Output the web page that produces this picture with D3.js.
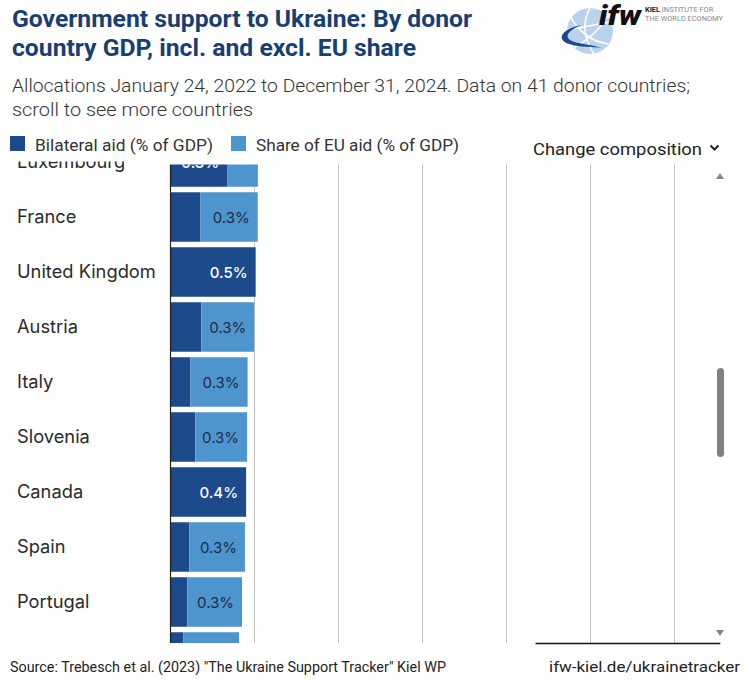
<!DOCTYPE html>
<html>
<head>
<meta charset="utf-8">
<script src="https://cdn.jsdelivr.net/npm/d3@7"></script>
<style>
  html, body { margin: 0; padding: 0; background: #fff; }
  svg { display: block; }
</style>
</head>
<body>
<svg id="chart" width="748" height="691"></svg>
<script>
// ---- data ----
const countries = ["Luxembourg", "France", "United Kingdom", "Austria", "Italy", "Slovenia", "Canada", "Spain", "Portugal", "Belgium"];
const bilateral = [0.334, 0.175, 0.504, 0.180, 0.115, 0.145, 0.447, 0.109, 0.098, 0.074];
const euShare   = [0.183, 0.341, 0.000, 0.315, 0.341, 0.308, 0.000, 0.331, 0.325, 0.331];
const xTicks = [0.5, 1, 1.5, 2, 2.5, 3];
const seriesNames = ["Bilateral aid (% of GDP)", "Share of EU aid (% of GDP)"];
const titleLines = ["Government support to Ukraine: By donor", "country GDP, incl. and excl. EU share"];
const subtitleLines = ["Allocations January 24, 2022 to December 31, 2024. Data on 41 donor countries;", "scroll to see more countries"];
const sourceText = "Source: Trebesch et al. (2023) \"The Ukraine Support Tracker\" Kiel WP";
const urlText = "ifw-kiel.de/ukrainetracker";

const colors = ["#1c4a8b", "#4e95cd"];
const svg = d3.select("#chart");
const FONT = "Roboto, 'Noto Sans', sans-serif";
const FONT2 = "Inter, Roboto, sans-serif";

function fitText(sel, w) { sel.attr("textLength", w).attr("lengthAdjust", "spacingAndGlyphs"); return sel; }

// ---- title ----
titleLines.forEach((t, i) => {
  const s = svg.append("text").attr("x", 12).attr("y", 27 + i * 29)
    .attr("font-family", FONT).attr("font-weight", 700).attr("font-size", 23)
    .attr("fill", "#183f74").text(t);
  fitText(s, i === 0 ? 460 : 404);
});
subtitleLines.forEach((t, i) => {
  const s = svg.append("text").attr("x", 12).attr("y", 92 + i * 24)
    .attr("font-family", FONT).attr("font-weight", 300).attr("font-size", 18.5)
    .attr("fill", "#333").text(t);
  fitText(s, i === 0 ? 678 : 241);
});

// ---- logo ----
const logo = svg.append("g");
logo.append("circle").attr("cx", 590).attr("cy", 31).attr("r", 23).attr("fill", "#b9d2ee");
logo.append("path").attr("d", "M570,16 Q583,40 608,44 M567,30 L610,22 M590,8 Q578,30 594,54 M573,48 Q598,35 610,12")
  .attr("stroke", "#fff").attr("stroke-width", 1.6).attr("fill", "none");
logo.append("path").attr("d", "M581,25 C558,30 556,42 573,45 C586,48 598,46 604,49 C592,44 576,44 570,40 C564,35 570,30 581,25 Z")
  .attr("fill", "#1c4a8b");
fitText(logo.append("text").attr("x", 599).attr("y", 25).attr("font-family", FONT)
  .attr("font-weight", 900).attr("font-style", "italic").attr("font-size", 27).attr("fill", "#111").text("ifw"), 42);
logo.append("text").attr("x", 645).attr("y", 12).attr("font-family", FONT)
  .attr("font-size", 7.4).attr("fill", "#888")
  .html('<tspan font-weight="700" fill="#222">KIEL</tspan> INSTITUTE FOR');
logo.append("text").attr("x", 645).attr("y", 20.5).attr("font-family", FONT)
  .attr("font-size", 7.4).attr("fill", "#888").text("THE WORLD ECONOMY");

// ---- legend ----
const legend = svg.append("g");
const legX = [10, 231], legW = [178, 203];
seriesNames.forEach((n, i) => {
  legend.append("rect").attr("x", legX[i]).attr("y", 136).attr("width", 15).attr("height", 15).attr("fill", colors[i]);
  const s = legend.append("text").attr("x", legX[i] + 25).attr("y", 151)
    .attr("font-family", FONT).attr("font-size", 16).attr("fill", "#333").text(n);
  fitText(s, legW[i]);
});
fitText(svg.append("text").attr("x", 533).attr("y", 155).attr("font-family", FONT)
  .attr("font-size", 17).attr("fill", "#222").text("Change composition"), 169);
svg.append("path").attr("d", "M710.5,145.5 L714.5,149.5 L718.5,145.5")
  .attr("stroke", "#222").attr("stroke-width", 2).attr("fill", "none");

// ---- chart ----
const x = d3.scaleLinear().domain([0, 3.3]).range([171, 171 + 3.3 * 168]);
const y = d3.scaleBand().domain(countries).range([134.5, 134.5 + 55 * countries.length])
  .paddingInner(0.1).paddingOuter(0.05);
const clipTop = 164.5, clipBottom = 643;

const defs = svg.append("defs");
defs.append("clipPath").attr("id", "plotClip").append("rect")
  .attr("x", 0).attr("y", clipTop).attr("width", 748).attr("height", clipBottom - clipTop);
defs.append("clipPath").attr("id", "labelClip").append("rect")
  .attr("x", 0).attr("y", 161.5).attr("width", 748).attr("height", clipBottom - 161.5);

// gridlines
svg.append("g").selectAll("line").data(xTicks).join("line")
  .attr("x1", d => Math.round(x(d)) - 0.5).attr("x2", d => Math.round(x(d)) - 0.5)
  .attr("y1", clipTop).attr("y2", clipBottom)
  .attr("stroke", "#c4c4c4").attr("stroke-width", 1);

const rows = countries.map((c, i) => ({ c, b: bilateral[i], e: euShare[i] }));
const plot = svg.append("g").attr("clip-path", "url(#plotClip)");
const rowG = plot.selectAll("g.row").data(rows).join("g").attr("class", "row")
  .attr("transform", d => `translate(0,${y(d.c)})`);
rowG.append("rect").attr("x", x(0)).attr("y", 0).attr("height", y.bandwidth())
  .attr("width", d => x(d.b) - x(0)).attr("fill", colors[0]);
rowG.append("rect").attr("x", d => x(d.b)).attr("y", 0).attr("height", y.bandwidth())
  .attr("width", d => x(d.b + d.e) - x(d.b)).attr("fill", colors[1]);
const fmt = v => d3.format(".1f")(v) + "%";
// value labels only where they fall inside the visible scroll window
rowG.filter(d => y(d.c) + y.bandwidth() / 2 < clipBottom).append("text")
  .attr("x", d => (d.b >= d.e ? x(d.b) : x(d.b + d.e)) - 8)
  .attr("y", y.bandwidth() / 2 + 5.5)
  .attr("text-anchor", "end").attr("font-family", FONT2).attr("font-size", 15)
  .attr("fill", d => d.b >= d.e ? "#fff" : "#1b2c48")
  .attr("font-weight", d => d.b >= d.e ? 500 : 400)
  .text(d => fmt(Math.max(d.b, d.e)));

// country labels
svg.append("g").attr("clip-path", "url(#labelClip)").selectAll("text")
  .data(rows.filter(d => y(d.c) + y.bandwidth() / 2 < clipBottom)).join("text")
  .attr("x", 17).attr("y", d => y(d.c) + y.bandwidth() / 2 + 6)
  .attr("font-family", FONT2).attr("font-size", 18.3).attr("fill", "#2a2a2a").text(d => d.c);

// axis line at zero
svg.append("line").attr("x1", x(0) - 0.5).attr("x2", x(0) - 0.5).attr("y1", clipTop).attr("y2", clipBottom)
  .attr("stroke", "#222").attr("stroke-width", 1.2);

// bottom rule
svg.append("line").attr("x1", x(2.17)).attr("x2", x(3.27)).attr("y1", 643.5).attr("y2", 643.5)
  .attr("stroke", "#111").attr("stroke-width", 1.5);

// scrollbar
svg.append("path").attr("d", "M716,179 L720,173 L724,179 Z").attr("fill", "#888");
svg.append("path").attr("d", "M716,630 L720,636 L724,630 Z").attr("fill", "#888");
svg.append("rect").attr("x", 717).attr("y", 368).attr("width", 7).attr("height", 89).attr("rx", 3.5).attr("fill", "#808080");

// footer
fitText(svg.append("text").attr("x", 10).attr("y", 672).attr("font-family", FONT)
  .attr("font-size", 14).attr("fill", "#222").text(sourceText), 436);
fitText(svg.append("text").attr("x", 549).attr("y", 672).attr("font-family", FONT)
  .attr("font-size", 14).attr("fill", "#222").text(urlText), 191);
</script>
</body>
</html>
